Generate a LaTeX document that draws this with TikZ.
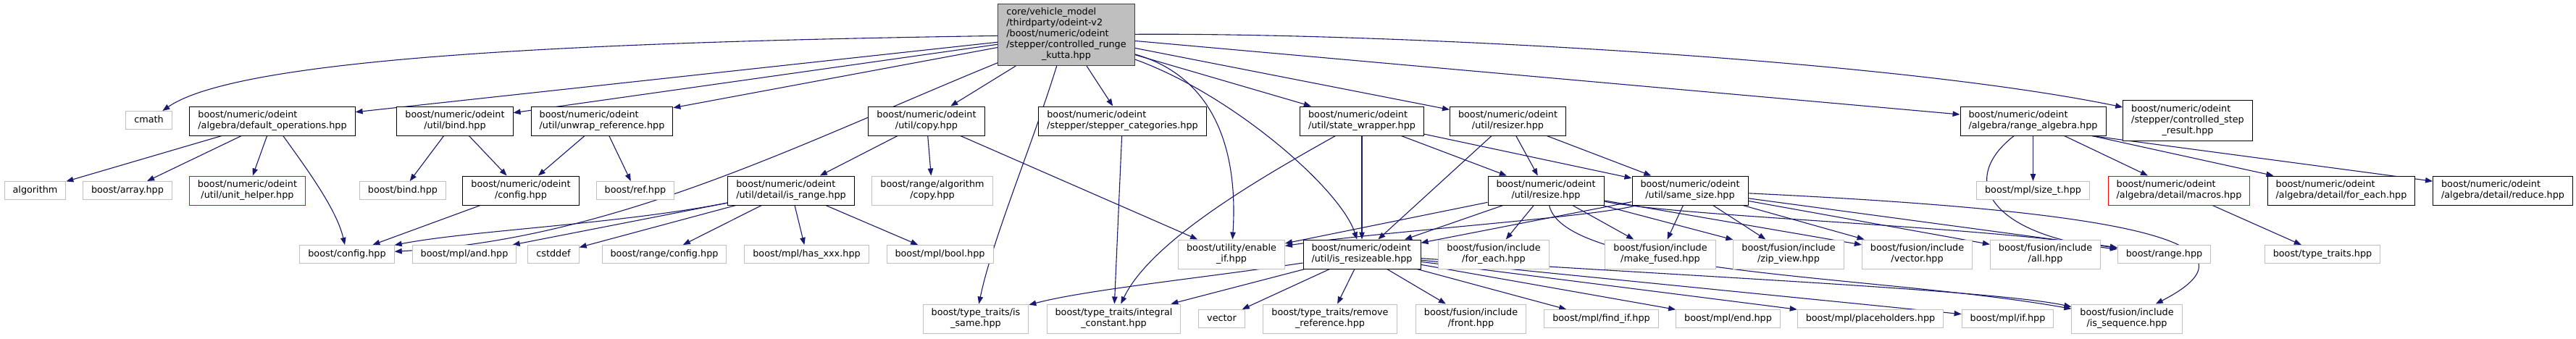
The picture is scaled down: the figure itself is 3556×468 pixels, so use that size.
\documentclass[tikz,border=0pt]{standalone}
\usepackage{fontspec}
\setmainfont{DejaVu Sans}
\usetikzlibrary{arrows.meta,backgrounds}

% label: all lines but the last flush left, the last one centred
\newcommand{\flbl}[2]{\begin{tabular}{@{}l@{}}#1\\\multicolumn{1}{@{}c@{}}{#2}\end{tabular}}
\newcommand{\slbl}[1]{\begin{tabular}{@{}c@{}}#1\end{tabular}}

\begin{document}
\begin{tikzpicture}[x=1pt, y=1pt,
    box/.style={draw=docBorder, fill=white, line width=1pt, inner xsep=11.5pt, inner ysep=5pt,
        font=\fontsize{12.8}{15}\selectfont},
    extbox/.style={box, draw=extBorder},
    redbox/.style={box, draw=missBorder},
    rootbox/.style={box, draw=rootBorder, fill=rootFill},
    dep/.style={draw=edgeColour, line width=1.1pt, -{Triangle[length=10pt, width=7.5pt]}}]

    \definecolor{edgeColour}{HTML}{191970}
    \definecolor{docBorder}{HTML}{000000}
    \definecolor{extBorder}{HTML}{BFBFBF}
    \definecolor{missBorder}{HTML}{FF0000}
    \definecolor{rootBorder}{HTML}{404040}
    \definecolor{rootFill}{HTML}{BFBFBF}

    \path[use as bounding box] (0,0) rectangle (3556,-468);

    % Root file
    \node[rootbox] (root) at (1472,-48) {\flbl{core/vehicle\_model\\/thirdparty/odeint-v2\\/boost/numeric/odeint\\/stepper/controlled\_runge}{\_kutta.hpp}};

    % Direct includes
    \node[extbox] (cmath) at (205.5,-166) {\slbl{cmath}};
    \node[box] (defops) at (376,-167) {\flbl{boost/numeric/odeint}{/algebra/default\_operations.hpp}};
    \node[box] (bind) at (628,-167) {\flbl{boost/numeric/odeint}{/util/bind.hpp}};
    \node[box] (unwrap) at (831,-167) {\flbl{boost/numeric/odeint}{/util/unwrap\_reference.hpp}};
    \node[box] (copy) at (1279,-167) {\flbl{boost/numeric/odeint}{/util/copy.hpp}};
    \node[box] (stepcat) at (1549.5,-167) {\flbl{boost/numeric/odeint}{/stepper/stepper\_categories.hpp}};
    \node[box] (statewrap) at (1880,-167) {\flbl{boost/numeric/odeint}{/util/state\_wrapper.hpp}};
    \node[box] (resizer) at (2081.5,-167) {\flbl{boost/numeric/odeint}{/util/resizer.hpp}};
    \node[box] (rangealg) at (2806.5,-167) {\flbl{boost/numeric/odeint}{/algebra/range\_algebra.hpp}};
    \node[box] (csr) at (3020,-166.5) {\flbl{boost/numeric/odeint\\/stepper/controlled\_step}{\_result.hpp}};

    % Third row
    \node[extbox] (algorithm) at (48.5,-263) {\slbl{algorithm}};
    \node[extbox] (array) at (176,-263) {\slbl{boost/array.hpp}};
    \node[redbox] (unithelper) at (341.5,-263) {\flbl{boost/numeric/odeint}{/util/unit\_helper.hpp}};
    \node[extbox] (boostbind) at (556,-263) {\slbl{boost/bind.hpp}};
    \node[box] (odeconfig) at (719,-263) {\flbl{boost/numeric/odeint}{/config.hpp}};
    \node[extbox] (ref) at (877,-263) {\slbl{boost/ref.hpp}};
    \node[box] (isrange) at (1092,-263) {\flbl{boost/numeric/odeint}{/util/detail/is\_range.hpp}};
    \node[extbox] (rangecopy) at (1287,-263) {\flbl{boost/range/algorithm}{/copy.hpp}};
    \node[box] (resize) at (2134,-263) {\flbl{boost/numeric/odeint}{/util/resize.hpp}};
    \node[box] (samesize) at (2333,-263) {\flbl{boost/numeric/odeint}{/util/same\_size.hpp}};
    \node[extbox] (sizet) at (2806.5,-263) {\slbl{boost/mpl/size\_t.hpp}};
    \node[redbox] (macros) at (3008,-263) {\flbl{boost/numeric/odeint}{/algebra/detail/macros.hpp}};
    \node[box] (algforeach) at (3232,-263) {\flbl{boost/numeric/odeint}{/algebra/detail/for\_each.hpp}};
    \node[box] (reduce) at (3455,-263) {\flbl{boost/numeric/odeint}{/algebra/detail/reduce.hpp}};

    % Fourth row
    \node[extbox] (boostconfig) at (479,-351) {\slbl{boost/config.hpp}};
    \node[extbox] (mpland) at (641,-351) {\slbl{boost/mpl/and.hpp}};
    \node[extbox] (cstddef) at (764,-351) {\slbl{cstddef}};
    \node[extbox] (rangeconfig) at (917,-351) {\slbl{boost/range/config.hpp}};
    \node[extbox] (hasxxx) at (1113.5,-351) {\slbl{boost/mpl/has\_xxx.hpp}};
    \node[extbox] (mplbool) at (1297.5,-351) {\slbl{boost/mpl/bool.hpp}};
    \node[extbox] (enableif) at (1700,-351) {\flbl{boost/utility/enable}{\_if.hpp}};
    \node[box] (isresize) at (1880,-351) {\flbl{boost/numeric/odeint}{/util/is\_resizeable.hpp}};
    \node[extbox] (fforeach) at (2062,-351) {\flbl{boost/fusion/include}{/for\_each.hpp}};
    \node[extbox] (makefused) at (2292,-351) {\flbl{boost/fusion/include}{/make\_fused.hpp}};
    \node[extbox] (zipview) at (2469,-351) {\flbl{boost/fusion/include}{/zip\_view.hpp}};
    \node[extbox] (fvector) at (2646.5,-351) {\flbl{boost/fusion/include}{/vector.hpp}};
    \node[extbox] (fall) at (2823.5,-351) {\flbl{boost/fusion/include}{/all.hpp}};
    \node[extbox] (rangehpp) at (2987.5,-351) {\slbl{boost/range.hpp}};
    \node[extbox] (typetraits) at (3206,-351) {\slbl{boost/type\_traits.hpp}};

    % Bottom row
    \node[extbox] (issame) at (1347,-440) {\flbl{boost/type\_traits/is}{\_same.hpp}};
    \node[extbox] (intconst) at (1537.5,-440) {\flbl{boost/type\_traits/integral}{\_constant.hpp}};
    \node[extbox] (vector) at (1686.5,-440) {\slbl{vector}};
    \node[extbox] (remref) at (1836,-440) {\flbl{boost/type\_traits/remove}{\_reference.hpp}};
    \node[extbox] (front) at (2030.5,-440) {\flbl{boost/fusion/include}{/front.hpp}};
    \node[extbox] (findif) at (2210.5,-440) {\slbl{boost/mpl/find\_if.hpp}};
    \node[extbox] (mplend) at (2385.5,-440) {\slbl{boost/mpl/end.hpp}};
    \node[extbox] (placeholders) at (2582,-440) {\slbl{boost/mpl/placeholders.hpp}};
    \node[extbox] (mplif) at (2771.5,-440) {\slbl{boost/mpl/if.hpp}};
    \node[extbox] (isseq) at (2936,-440) {\flbl{boost/fusion/include}{/is\_sequence.hpp}};

    \begin{scope}[on background layer]
    \fill[white] (0,0) rectangle (3556,-468);

    % Edges from the root
    \draw[dep] (root) .. controls (800,-58) and (330,-80) .. (cmath);
    \draw[dep] (root) -- (defops);
    \draw[dep] (root) -- (bind);
    \draw[dep] (root) -- (unwrap);
    \draw[dep] (root) .. controls (1100,-200) and (850,-330) .. (boostconfig);
    \draw[dep] (root) -- (copy);
    \draw[dep] (root) .. controls (1425,-200) and (1370,-330) .. (issame);
    \draw[dep] (root) -- (stepcat);
    \draw[dep] (root) .. controls (1690,-110) and (1708,-230) .. (enableif);
    \draw[dep] (root) .. controls (1700,-130) and (1850,-260) .. (isresize);
    \draw[dep] (root) -- (statewrap);
    \draw[dep] (root) -- (resizer);
    \draw[dep] (root) -- (rangealg);
    \draw[dep] (root) .. controls (1900,-45) and (2600,-80) .. (csr);

    % default_operations, bind, unwrap_reference, config
    \draw[dep] (defops) -- (algorithm);
    \draw[dep] (defops) -- (array);
    \draw[dep] (defops) -- (unithelper);
    \draw[dep] (defops) .. controls (425,-235) and (465,-290) .. (boostconfig);
    \draw[dep] (bind) -- (boostbind);
    \draw[dep] (bind) -- (odeconfig);
    \draw[dep] (unwrap) -- (odeconfig);
    \draw[dep] (unwrap) -- (ref);
    \draw[dep] (odeconfig) -- (boostconfig);

    % copy and is_range
    \draw[dep] (copy) -- (isrange);
    \draw[dep] (copy) -- (rangecopy);
    \draw[dep] (copy) -- (enableif);
    \draw[dep] (isrange) .. controls (850,-310) and (650,-318) .. (boostconfig);
    \draw[dep] (isrange) -- (mpland);
    \draw[dep] (isrange) -- (cstddef);
    \draw[dep] (isrange) -- (rangeconfig);
    \draw[dep] (isrange) -- (hasxxx);
    \draw[dep] (isrange) -- (mplbool);

    % stepper_categories, state_wrapper, resizer
    \draw[dep] (stepcat) -- (intconst);
    \draw[dep] (statewrap) .. controls (1750,-240) and (1590,-330) .. (intconst);
    \draw[dep] (statewrap) -- (isresize);
    \draw[dep] (statewrap) -- (resize);
    \draw[dep] (statewrap) -- (samesize);
    \draw[dep] (resizer) -- (isresize);
    \draw[dep] (resizer) -- (resize);
    \draw[dep] (resizer) -- (samesize);

    % resize
    \draw[dep] (resize) -- (enableif);
    \draw[dep] (resize) -- (isresize);
    \draw[dep] (resize) -- (fforeach);
    \draw[dep] (resize) .. controls (2160,-380) and (2600,-380) .. (isseq);
    \draw[dep] (resize) -- (makefused);
    \draw[dep] (resize) -- (zipview);
    \draw[dep] (resize) -- (fvector);
    \draw[dep] (resize) .. controls (2330,-300) and (2700,-310) .. (rangehpp);

    % same_size
    \draw[dep] (samesize) .. controls (2200,-300) and (1900,-320) .. (enableif);
    \draw[dep] (samesize) -- (isresize);
    \draw[dep] (samesize) -- (makefused);
    \draw[dep] (samesize) -- (zipview);
    \draw[dep] (samesize) -- (fvector);
    \draw[dep] (samesize) -- (rangehpp);
    \draw[dep] (samesize) .. controls (2900,-290) and (3150,-330) .. (isseq);
    \draw[dep] (samesize) -- (fall);

    % is_resizeable
    \draw[dep] (isresize) .. controls (1650,-385) and (1500,-400) .. (issame);
    \draw[dep] (isresize) -- (intconst);
    \draw[dep] (isresize) -- (vector);
    \draw[dep] (isresize) -- (remref);
    \draw[dep] (isresize) -- (front);
    \draw[dep] (isresize) -- (findif);
    \draw[dep] (isresize) -- (mplend);
    \draw[dep] (isresize) -- (placeholders);
    \draw[dep] (isresize) -- (mplif);
    \draw[dep] (isresize) .. controls (2300,-380) and (2750,-400) .. (isseq);

    % range_algebra and macros
    \draw[dep] (rangealg) .. controls (2700,-250) and (2750,-325) .. (rangehpp);
    \draw[dep] (rangealg) -- (sizet);
    \draw[dep] (rangealg) -- (macros);
    \draw[dep] ([xshift=-20pt]rangealg.south east) -- (algforeach);
    \draw[dep] ([xshift=-20pt]rangealg.south east) -- (reduce);
    \draw[dep] (macros) -- (typetraits);
    \end{scope}

\end{tikzpicture}
\end{document}
